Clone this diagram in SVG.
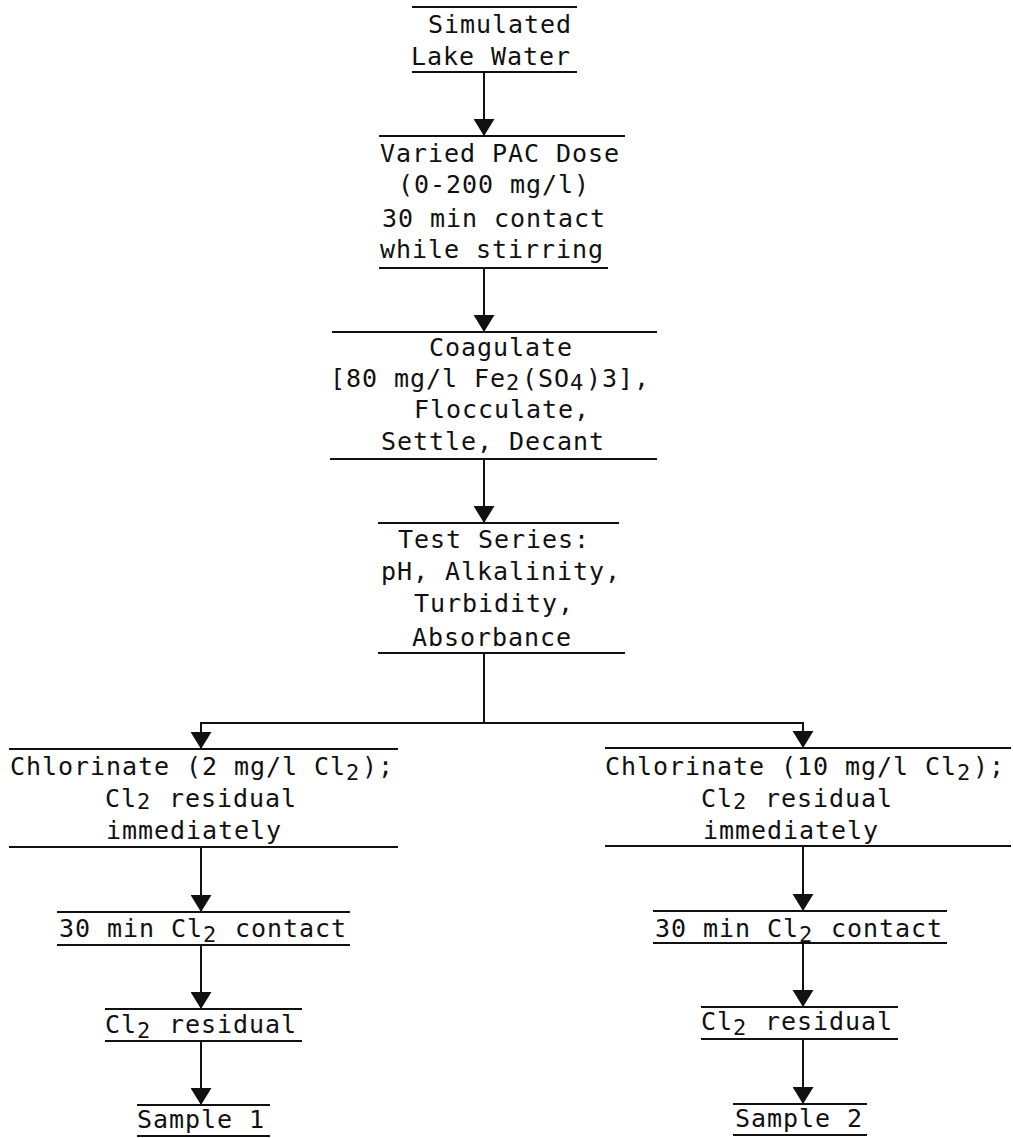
<svg xmlns="http://www.w3.org/2000/svg" width="1013" height="1138" viewBox="0 0 1013 1138">
  <defs>
    <marker id="ah" viewBox="0 0 17 21" refX="17" refY="10.5" markerWidth="17" markerHeight="21" markerUnits="userSpaceOnUse" orient="auto">
      <path d="M0,0 L17,10.5 L0,21 z" fill="#111"/>
    </marker>
    <style>
      .rule { stroke: #111; stroke-width: 2; fill: none; }
      .conn { stroke: #111; stroke-width: 2; fill: none; marker-end: url(#ah); }
      .plain { stroke: #111; stroke-width: 2; fill: none; }
      text { font-family: "DejaVu Sans Mono", "Liberation Mono", monospace; font-size: 25px; letter-spacing: 0.95px; fill: #111; }
      .sub { font-size: 22px; letter-spacing: 2.76px; }
    </style>
  </defs>
  <rect width="1013" height="1138" fill="#fff"/>

  <g id="connectors">
    <line class="conn" x1="484" y1="72" x2="484" y2="136"/>
    <line class="conn" x1="484" y1="268" x2="484" y2="332"/>
    <line class="conn" x1="484" y1="459" x2="484" y2="523"/>
    <line class="plain" x1="484" y1="653" x2="484" y2="723"/>
    <path class="conn" d="M484,723 H201 V749"/>
    <path class="conn" d="M484,723 H803 V748"/>
    <line class="conn" x1="201" y1="847" x2="201" y2="912"/>
    <line class="conn" x1="201" y1="945" x2="201" y2="1009"/>
    <line class="conn" x1="201" y1="1041" x2="201" y2="1105"/>
    <line class="conn" x1="803" y1="846" x2="803" y2="911"/>
    <line class="conn" x1="803" y1="943" x2="803" y2="1007"/>
    <line class="conn" x1="803" y1="1039" x2="803" y2="1104"/>
  </g>

  <g id="node-lake-water">
    <line class="rule" x1="412" y1="7" x2="577" y2="7"/>
    <line class="rule" x1="412" y1="72" x2="577" y2="72"/>
    <text x="428" y="33">Simulated</text>
    <text x="411" y="65">Lake Water</text>
  </g>

  <g id="node-pac-dose">
    <line class="rule" x1="379" y1="136" x2="625" y2="136"/>
    <line class="rule" x1="379" y1="268" x2="608" y2="268"/>
    <text x="380" y="162">Varied PAC Dose</text>
    <text x="398" y="193">(0-200 mg/l)</text>
    <text x="382" y="227">30 min contact</text>
    <text x="380" y="258">while stirring</text>
  </g>

  <g id="node-coagulate">
    <line class="rule" x1="332" y1="332" x2="657" y2="332"/>
    <line class="rule" x1="330" y1="459" x2="657" y2="459"/>
    <text x="429" y="356">Coagulate</text>
    <text x="330" y="387">[80 mg/l Fe<tspan class="sub" dy="3">2</tspan><tspan dy="-3">(SO</tspan><tspan class="sub" dy="3">4</tspan><tspan dy="-3">)3],</tspan></text>
    <text x="414" y="418">Flocculate,</text>
    <text x="381" y="450">Settle, Decant</text>
  </g>

  <g id="node-test-series">
    <line class="rule" x1="378" y1="523" x2="619" y2="523"/>
    <line class="rule" x1="378" y1="653" x2="625" y2="653"/>
    <text x="398" y="548">Test Series:</text>
    <text x="381" y="580">pH, Alkalinity,</text>
    <text x="414" y="612">Turbidity,</text>
    <text x="412" y="646">Absorbance</text>
  </g>

  <g id="node-chlorinate-2">
    <line class="rule" x1="9" y1="749" x2="398" y2="749"/>
    <line class="rule" x1="9" y1="847" x2="398" y2="847"/>
    <text x="10" y="775">Chlorinate (2 mg/l Cl<tspan class="sub" dy="5">2</tspan><tspan dy="-5">);</tspan></text>
    <text x="105" y="807">Cl<tspan class="sub" dy="2">2</tspan><tspan dy="-2"> residual</tspan></text>
    <text x="106" y="839">immediately</text>
  </g>

  <g id="node-contact-1">
    <line class="rule" x1="57" y1="912" x2="350" y2="912"/>
    <line class="rule" x1="57" y1="945" x2="350" y2="945"/>
    <text x="59" y="937">30 min Cl<tspan class="sub" dy="5">2</tspan><tspan dy="-5"> contact</tspan></text>
  </g>

  <g id="node-residual-1">
    <line class="rule" x1="105" y1="1009" x2="302" y2="1009"/>
    <line class="rule" x1="105" y1="1041" x2="302" y2="1041"/>
    <text x="105" y="1033">Cl<tspan class="sub" dy="5">2</tspan><tspan dy="-5"> residual</tspan></text>
  </g>

  <g id="node-sample-1">
    <line class="rule" x1="137" y1="1105" x2="270" y2="1105"/>
    <line class="rule" x1="137" y1="1136" x2="270" y2="1136"/>
    <text x="137" y="1128">Sample 1</text>
  </g>

  <g id="node-chlorinate-10">
    <line class="rule" x1="605" y1="748" x2="1011" y2="748"/>
    <line class="rule" x1="605" y1="846" x2="1011" y2="846"/>
    <text x="605" y="775">Chlorinate (10 mg/l Cl<tspan class="sub" dy="5">2</tspan><tspan dy="-5">);</tspan></text>
    <text x="701" y="807">Cl<tspan class="sub" dy="2">2</tspan><tspan dy="-2"> residual</tspan></text>
    <text x="703" y="839">immediately</text>
  </g>

  <g id="node-contact-2">
    <line class="rule" x1="653" y1="911" x2="947" y2="911"/>
    <line class="rule" x1="653" y1="943" x2="947" y2="943"/>
    <text x="655" y="937">30 min Cl<tspan class="sub" dy="5">2</tspan><tspan dy="-5"> contact</tspan></text>
  </g>

  <g id="node-residual-2">
    <line class="rule" x1="701" y1="1007" x2="898" y2="1007"/>
    <line class="rule" x1="701" y1="1039" x2="898" y2="1039"/>
    <text x="701" y="1030">Cl<tspan class="sub" dy="5">2</tspan><tspan dy="-5"> residual</tspan></text>
  </g>

  <g id="node-sample-2">
    <line class="rule" x1="733" y1="1104" x2="867" y2="1104"/>
    <line class="rule" x1="733" y1="1135" x2="867" y2="1135"/>
    <text x="735" y="1127">Sample 2</text>
  </g>
</svg>
